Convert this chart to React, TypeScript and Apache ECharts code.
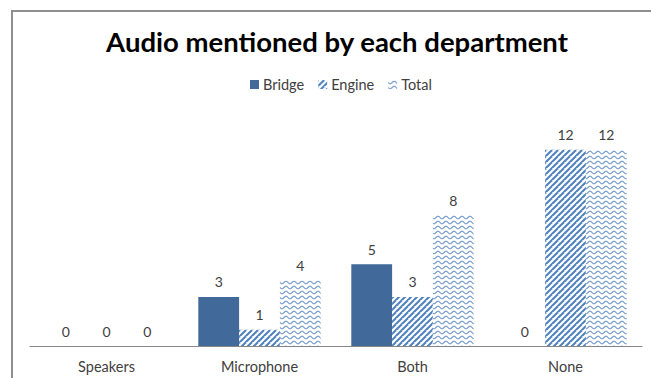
import React, { useEffect, useRef } from "react";
import * as echarts from "echarts";

const categories = ["Speakers", "Microphone", "Both", "None"];
const bridge = [0, 3, 5, 0];
const engine = [0, 1, 3, 12];
const total = [0, 4, 8, 12];
const seriesNames = ["Bridge", "Engine", "Total"];

function stripePattern(): string {
  const c = document.createElement("canvas");
  c.width = 6;
  c.height = 6;
  const ctx = c.getContext("2d")!;
  ctx.fillStyle = "#ffffff";
  ctx.fillRect(0, 0, 6, 6);
  ctx.strokeStyle = "#4F81BD";
  ctx.lineWidth = 2;
  for (let k = -6; k <= 12; k += 6) {
    ctx.beginPath();
    ctx.moveTo(k - 6, 12);
    ctx.lineTo(k + 6, 0);
    ctx.stroke();
  }
  return c.toDataURL();
}

function wavePattern(): string {
  const c = document.createElement("canvas");
  c.width = 8;
  c.height = 5;
  const ctx = c.getContext("2d")!;
  ctx.fillStyle = "#ffffff";
  ctx.fillRect(0, 0, 8, 5);
  ctx.strokeStyle = "#6B93C8";
  ctx.lineWidth = 1.1;
  ctx.beginPath();
  for (let x = 0; x <= 8; x += 0.5) {
    const y = 2.5 + 1.3 * Math.sin((x / 8) * Math.PI * 2);
    if (x === 0) ctx.moveTo(x, y);
    else ctx.lineTo(x, y);
  }
  ctx.stroke();
  return c.toDataURL();
}

export default function App() {
  const ref = useRef<HTMLDivElement>(null);
  useEffect(() => {
    if (!ref.current) return;
    const chart = echarts.init(ref.current, null, { renderer: "svg" });
    const stripe = stripePattern();
    const wave = wavePattern();
    const font = "Lato, 'Liberation Sans', sans-serif";
    const label = {
      show: true,
      position: "top" as const,
      color: "#404040",
      fontSize: 14,
      fontFamily: font,
      distance: 8,
    };
    chart.setOption({
      animation: false,
      backgroundColor: "#ffffff",
      title: {
        text: "Audio mentioned by each department",
        left: 332,
        textAlign: "center",
        top: 22,
        textStyle: { fontSize: 27.5, fontWeight: "bold", color: "#000", fontFamily: font },
      },
      legend: {
        top: 72,
        left: 245,
        itemWidth: 9,
        itemHeight: 9,
        itemGap: 14,
        icon: "rect",
        textStyle: { fontSize: 14.5, color: "#404040", fontFamily: font, padding: [0, 0, 0, -1] },
        data: seriesNames,
      },
      graphic: [
        {
          type: "rect",
          shape: { x: 12, y: 11, width: 700, height: 400 },
          style: { fill: "none", stroke: "#8f8f8f", lineWidth: 2 },
          silent: true,
        },
      ],
      grid: { left: 30, right: 9, top: 117, bottom: 32 },
      xAxis: {
        type: "category",
        data: categories,
        axisLine: { lineStyle: { color: "#868686", width: 1 } },
        axisTick: { show: false },
        axisLabel: { color: "#404040", fontSize: 14.5, fontFamily: font, margin: 13 },
      },
      yAxis: {
        type: "value",
        min: 0,
        max: 14,
        interval: 2,
        show: false,
        splitLine: { show: false },
      },
      series: [
        {
          name: seriesNames[0],
          type: "bar",
          data: bridge,
          barGap: "0%",
          barCategoryGap: "20%",
          itemStyle: { color: "#41699A" },
          label,
        },
        {
          name: seriesNames[1],
          type: "bar",
          data: engine,
          barGap: "0%",
          barCategoryGap: "20%",
          itemStyle: { color: { image: stripe, repeat: "repeat" } as any },
          label,
        },
        {
          name: seriesNames[2],
          type: "bar",
          data: total,
          barGap: "0%",
          barCategoryGap: "20%",
          itemStyle: { color: { image: wave, repeat: "repeat" } as any },
          label,
        },
      ],
    });
    return () => chart.dispose();
  }, []);
  return (
    <div
      ref={ref}
      style={{ position: "fixed", left: 0, top: 0, width: 651, height: 378 }}
    />
  );
}
